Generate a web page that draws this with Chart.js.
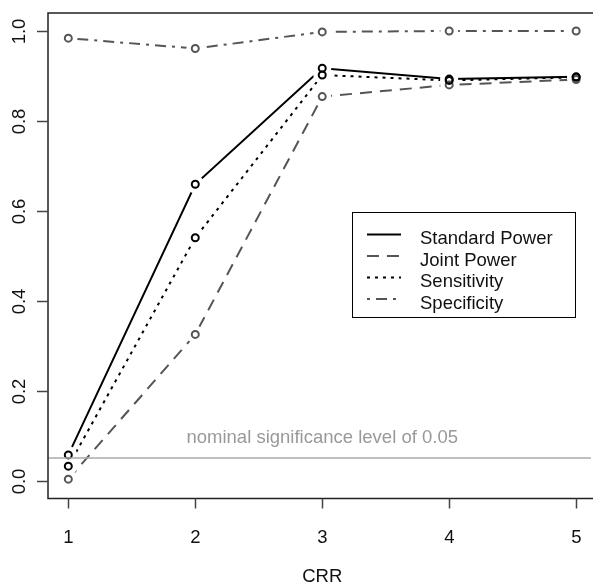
<!DOCTYPE html>
<html>
<head>
<meta charset="utf-8">
<script src="https://cdn.jsdelivr.net/npm/chart.js@4"></script>
<style>
  body { margin: 0; background: #fff; }
  #wrap { width: 597px; height: 583px; position: relative; }
</style>
</head>
<body>
<div id="wrap"><canvas id="powerChart"></canvas></div>
<script>
let crr = [1, 2, 3, 4, 5];
let standardPower = [0.057, 0.659, 0.917, 0.893, 0.898];
let jointPower = [0.003, 0.325, 0.854, 0.880, 0.892];
let sensitivity = [0.032, 0.540, 0.902, 0.890, 0.897];
let specificity = [0.984, 0.961, 0.998, 1.000, 1.000];

let xTicks = [1, 2, 3, 4, 5];
let yTicks = [0, 0.2, 0.4, 0.6, 0.8, 1.0];
let yTickLabels = ["0.0", "0.2", "0.4", "0.6", "0.8", "1.0"];
let nominalLevel = 0.05;
let nominalLabel = "nominal significance level of 0.05";

let seriesNames = ["Standard Power", "Joint Power", "Sensitivity", "Specificity"];
let seriesColors = ["#000000", "#555555", "#000000", "#555555"];
let seriesDashes = [[], [12, 8], [3, 5], [3, 6, 11, 6]];

const FONT = '18.5px "Liberation Sans", Arial, sans-serif';

function toPoints(values) {
    return crr.map((c, i) => ({ x: c, y: values[i] }));
}

let allSeries = [standardPower, jointPower, sensitivity, specificity];

let datasets = allSeries.map((vals, i) => ({
    label: seriesNames[i],
    data: toPoints(vals),
    borderColor: seriesColors[i],
    borderWidth: 2,
    borderDash: seriesDashes[i],
    pointRadius: 3.5,
    pointBorderWidth: 2,
    pointBorderColor: seriesColors[i],
    pointBackgroundColor: "rgba(0,0,0,0)",
    tension: 0,
    fill: false
}));

// R style axes, box, reference line and legend
const rStyle = {
    id: "rStyle",
    afterDatasetsDraw(chart) {
        let ctx = chart.ctx;
        let area = chart.chartArea;
        // type = "b": leave a gap in the lines around each point
        ctx.save();
        ctx.fillStyle = "#fff";
        chart.data.datasets.forEach((ds, i) => {
            chart.getDatasetMeta(i).data.forEach(pt => {
                ctx.beginPath();
                ctx.arc(pt.x, pt.y, 9, 0, Math.PI * 2);
                ctx.fill();
            });
        });
        chart.data.datasets.forEach((ds, i) => {
            chart.getDatasetMeta(i).data.forEach(pt => pt.draw(ctx, area));
        });
        ctx.restore();

        let x = chart.scales.x, y = chart.scales.y;
        let yy = y.getPixelForValue(nominalLevel);
        ctx.save();
        ctx.strokeStyle = "#aaaaaa";
        ctx.lineWidth = 1.5;
        ctx.beginPath();
        ctx.moveTo(area.left, yy);
        ctx.lineTo(area.right, yy);
        ctx.stroke();
        ctx.fillStyle = "#999999";
        ctx.font = FONT;
        ctx.textAlign = "center";
        ctx.textBaseline = "alphabetic";
        ctx.fillText(nominalLabel, x.getPixelForValue(3), yy - 15);
        ctx.restore();
    },
    afterDraw(chart) {
        let ctx = chart.ctx;
        let x = chart.scales.x, y = chart.scales.y;
        let area = chart.chartArea;
        ctx.save();

        // box (right side falls outside the canvas)
        ctx.strokeStyle = "#222";
        ctx.lineWidth = 1.5;
        ctx.beginPath();
        ctx.moveTo(area.right + 2, area.top);
        ctx.lineTo(area.left, area.top);
        ctx.lineTo(area.left, area.bottom);
        ctx.lineTo(area.right + 2, area.bottom);
        ctx.stroke();

        ctx.font = FONT;
        ctx.fillStyle = "#111";
        ctx.strokeStyle = "#444";
        ctx.lineWidth = 1.5;

        // x ticks
        ctx.textAlign = "center";
        ctx.textBaseline = "alphabetic";
        xTicks.forEach(t => {
            let px = Math.round(x.getPixelForValue(t)) + 0.5;
            ctx.beginPath();
            ctx.moveTo(px, area.bottom);
            ctx.lineTo(px, area.bottom + 10);
            ctx.stroke();
            ctx.fillText(String(t), px, 543);
        });
        ctx.fillText("CRR", x.getPixelForValue(3), 582);

        // y ticks, labels rotated like R
        yTicks.forEach((t, i) => {
            let py = Math.round(y.getPixelForValue(t)) + 0.5;
            ctx.beginPath();
            ctx.moveTo(area.left, py);
            ctx.lineTo(area.left - 11, py);
            ctx.stroke();
            ctx.save();
            ctx.translate(25, py);
            ctx.rotate(-Math.PI / 2);
            ctx.fillText(yTickLabels[i], 0, 0);
            ctx.restore();
        });

        // legend
        let lx = 352, ly = 212, lw = 223, lh = 105;
        ctx.strokeStyle = "#000";
        ctx.lineWidth = 1;
        ctx.strokeRect(lx + 0.5, ly + 0.5, lw, lh);
        let baselines = [244, 265.5, 287, 308.5];
        seriesNames.forEach((name, i) => {
            let b = baselines[i];
            ctx.strokeStyle = seriesColors[i];
            ctx.lineWidth = 2;
            ctx.setLineDash(seriesDashes[i]);
            ctx.beginPath();
            ctx.moveTo(367, b - 9.5);
            ctx.lineTo(401, b - 9.5);
            ctx.stroke();
            ctx.setLineDash([]);
            ctx.fillStyle = "#111";
            ctx.textAlign = "left";
            ctx.fillText(name, 420, b);
        });
        ctx.restore();
    }
};

const ctx = document.getElementById("powerChart").getContext("2d");
window.chart = new Chart(ctx, {
    type: "line",
    data: { datasets: datasets },
    options: {
        responsive: true,
        maintainAspectRatio: false,
        animation: false,
        layout: { padding: { left: 48, top: 13, right: 0, bottom: 84.5 } },
        plugins: {
            legend: { display: false },
            tooltip: { enabled: false }
        },
        scales: {
            x: { type: "linear", min: 0.84, max: 5.117, display: false },
            y: { type: "linear", min: -0.04, max: 1.04, display: false }
        }
    },
    plugins: [rStyle]
});
</script>
</body>
</html>
